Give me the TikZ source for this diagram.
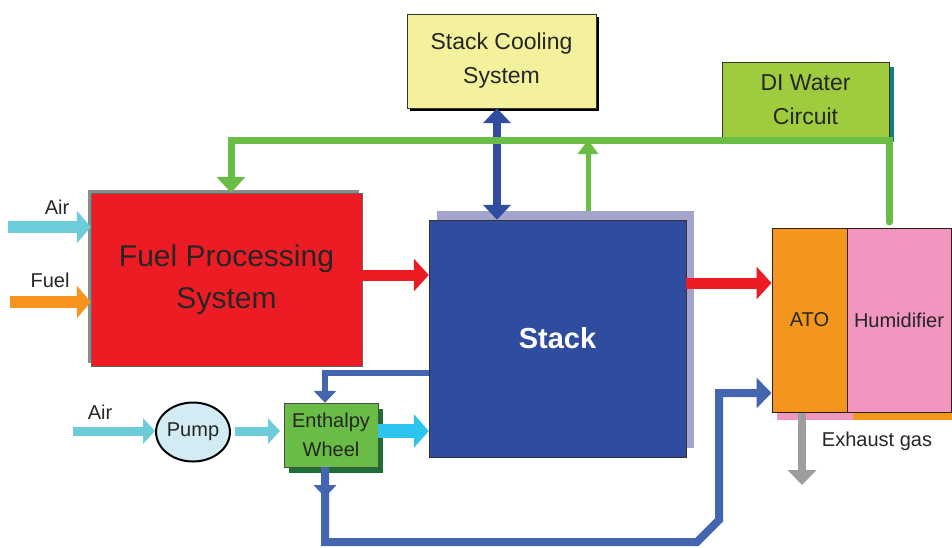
\documentclass[tikz,border=0pt]{standalone}
\usepackage{fontspec}
\setmainfont{Liberation Sans}
\usepackage{tikz}
\usetikzlibrary{arrows.meta,shapes.geometric,shadows,decorations.markings}
\usepackage{xcolor}
\definecolor{fpRed}{HTML}{ED1C24}
\definecolor{stackBlue}{HTML}{2F4C9E}
\definecolor{stackEdge}{HTML}{A4A4CC}
\definecolor{coolYellow}{HTML}{F4F19C}
\definecolor{diGreen}{HTML}{9FCB3E}
\definecolor{diTeal}{HTML}{12807E}
\definecolor{pipeGreen}{HTML}{69BD45}
\definecolor{atoOrange}{HTML}{F4951E}
\definecolor{humPink}{HTML}{F196C0}
\definecolor{airCyan}{HTML}{6DCCD9}
\definecolor{wetCyan}{HTML}{2DC4EE}
\definecolor{fuelOrange}{HTML}{F7941D}
\definecolor{loopBlue}{HTML}{4465AF}
\definecolor{ewGreen}{HTML}{69BC45}
\definecolor{ewShadow}{HTML}{1C7034}
\definecolor{pumpBlue}{HTML}{D3ECF3}
\definecolor{exGray}{HTML}{9D9D9D}
\tikzset{
  unit/.style = {align=center, inner sep=0pt, text centered, text=black!85,
    font=\fontsize{23pt}{34pt}\selectfont},
  blk_fps/.style = {unit, rectangle, draw=black!60, fill=fpRed,
    minimum width=271pt, minimum height=173pt,
    font=\fontsize{30pt}{42pt}\selectfont,
    drop shadow={shadow xshift=-3pt, shadow yshift=3pt, fill=black!45, opacity=1}},% reformer
  blk_stack/.style = {unit, rectangle, draw=black!80, fill=stackBlue, text=white,
    minimum width=257pt, minimum height=237pt,
    font=\fontsize{29pt}{34pt}\selectfont\bfseries,
    drop shadow={shadow xshift=8pt, shadow yshift=9pt, fill=stackEdge, opacity=1}},% fuel cell stack
  blk_cool/.style = {unit, rectangle, draw=black!80, fill=coolYellow,
    minimum width=189pt, minimum height=94pt,
    drop shadow={shadow xshift=3pt, shadow yshift=-3pt, fill=black, opacity=1}},
  blk_di/.style = {unit, rectangle, draw=black!80, fill=diGreen,
    minimum width=167pt, minimum height=75pt,
    drop shadow={shadow xshift=5pt, shadow yshift=-5pt, fill=diTeal, opacity=1}},
  blk_ato/.style = {unit, rectangle, draw=black!75!brown, line width=1pt,
    minimum height=184pt, font=\fontsize{20pt}{24pt}\selectfont},
  blk_ew/.style = {unit, rectangle, draw=black!70, fill=ewGreen,
    minimum width=94pt, minimum height=64pt,
    font=\fontsize{20pt}{29pt}\selectfont,
    drop shadow={shadow xshift=5pt, shadow yshift=-6pt, fill=ewShadow, opacity=1}},% enthalpy wheel
  blk_pump/.style = {unit, ellipse, draw=black, line width=2pt, fill=pumpBlue,
    minimum width=72pt, minimum height=59pt,
    font=\fontsize{20pt}{24pt}\selectfont},
  lbl/.style = {unit, font=\fontsize{20pt}{24pt}\selectfont},
  % block arrows: #1 colour, line width, tip width, tip length
  p_air/.style = {draw=airCyan, line width=12pt, -{Triangle[width=32pt,length=14pt]}},
  p_air_s/.style = {draw=airCyan, line width=9pt, -{Triangle[width=25pt,length=12pt]}},
  p_fuel/.style = {draw=fuelOrange, line width=12pt, -{Triangle[width=32pt,length=14pt]}},
  p_red/.style = {draw=fpRed, line width=11pt, -{Triangle[width=32pt,length=15pt]}},
  p_wet/.style = {draw=wetCyan, line width=14pt, -{Triangle[width=33pt,length=15pt]}},
  p_cool/.style = {draw=stackBlue, line width=8pt,
    {Triangle[width=27pt,length=15pt]}-{Triangle[width=27pt,length=15pt]}},
  p_green/.style = {draw=pipeGreen, line width=7pt, line cap=round,
    -{Triangle[width=28pt,length=16pt]}},
  p_vent/.style = {draw=pipeGreen, line width=5pt, -{Triangle[width=20pt,length=14pt]}},
  p_loop/.style = {draw=loopBlue, line width=6pt, -{Triangle[width=22pt,length=12pt]}},
  p_return/.style = {draw=loopBlue, line width=8pt, -{Triangle[width=30pt,length=15pt]},
    postaction={decorate, decoration={markings,
      mark=at position 30pt with {\arrow{Triangle[width=22pt,length=12pt]}}}}},
  p_exhaust/.style = {draw=exGray, line width=8pt, -{Triangle[width=28pt,length=15pt]}}
}

\begin{document}
\begin{tikzpicture}[x=1pt,y=-1pt]
    \useasboundingbox (0,0) rectangle (952,547);

    % blocks
    \node [blk_fps] (fps) at (226.5,279.5) {Fuel Processing\\System};
    \node [blk_stack] (stack) at (557.5,338.5) {Stack};
    \node [blk_cool] (cool) at (501.5,61) {Stack Cooling\\System};
    \node [blk_di] (di) at (805.5,99.5) {DI Water\\Circuit};
    \fill [humPink] (777,412) rectangle (853,420);
    \fill [atoOrange] (853,412) rectangle (952,420);
    \node [blk_ato, fill=atoOrange, minimum width=75pt] (ato) at (809.5,320) {ATO};
    \node [blk_ato, fill=humPink, minimum width=104pt] (hum) at (899,320) {Humidifier};
    \node [blk_pump] (pump) at (193,432) {Pump};
    \node [blk_ew] (ew) at (331,435) {Enthalpy\\Wheel};

    % labels
    \node [lbl] (lblAir) at (57,207) {Air};
    \node [lbl] (lblFuel) at (50,280) {Fuel};
    \node [lbl] (lblAirPump) at (100,412) {Air};
    \node [lbl] (lblEx) at (877,441) {Exhaust gas};

    % columns, rows and free ends
    \coordinate (colFP) at (231,0);
    \coordinate (colCool) at (497,0);
    \coordinate (colVent) at (588,0);
    \coordinate (colDI) at (889,0);
    \coordinate (colEW) at (325,0);
    \coordinate (colEx) at (802,0);
    \coordinate (rowGreen) at (0,140);
    \coordinate (rowBack) at (0,373);
    \coordinate (rowAto) at (0,393);
    \coordinate (rowBottom) at (0,542);
    \coordinate (airIn) at (8,227);
    \coordinate (fuelIn) at (10,302);
    \coordinate (airPumpIn) at (73,431);
    \coordinate (diEnd) at (889,222);
    \coordinate (ventFoot) at (588,211);
    \coordinate (bend1) at (697,542);
    \coordinate (bend2) at (719,520);
    \coordinate (exOut) at (802,485);

    % flows
    \draw [p_air] (airIn) -- (fps.west |- airIn);
    \draw [p_fuel] (fuelIn) -- (fps.west |- fuelIn);
    \draw [p_red] (fps.east |- 0,275) -- (stack.west |- 0,275);
    \draw [p_red] (stack.east |- 0,283) -- (ato.west |- 0,283);
    \draw [p_air_s] (airPumpIn) -- (pump.west |- airPumpIn);
    \draw [p_air_s] (235,431) -- (280,431);
    \draw [p_wet] (ew.east |- 0,431) -- (stack.west |- 0,431);
    \draw [p_cool] (cool.south -| colCool) -- (stack.north -| colCool);
    \draw [p_loop] (stack.west |- rowBack) -- (colEW |- rowBack) -- (colEW |- ew.north);
    \draw [p_return] (colEW |- ew.south) -- (colEW |- rowBottom) -- (bend1) -- (bend2)
        -- (bend2 |- rowAto) -- (ato.west |- rowAto);
    \draw [p_exhaust] (colEx |- ato.south) -- (exOut);
    \draw [p_vent] (ventFoot) -- (colVent |- rowGreen);
    \draw [p_green] (diEnd) -- (colDI |- rowGreen) -- (colFP |- rowGreen) -- (colFP |- fps.north);
\end{tikzpicture}
\end{document}
